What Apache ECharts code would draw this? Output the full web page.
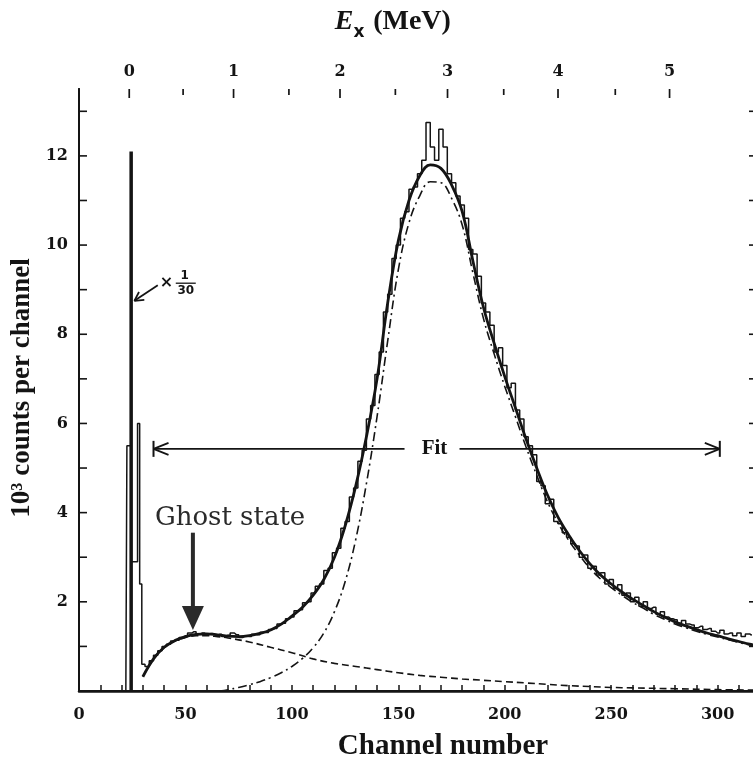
<!DOCTYPE html>
<html>
<head>
<meta charset="utf-8">
<script src="https://cdn.jsdelivr.net/npm/echarts@6/dist/echarts.min.js"></script>
<style>
  html, body { margin: 0; padding: 0; background: #ffffff; }
  #chart { width: 753px; height: 766px; }
</style>
</head>
<body>
<div id="chart"></div>
<script>
// ---- Measured spectrum (counts in units of 10^3 per channel) ----
// Ground-state region, unscaled histogram outline
const gsChannels = [21, 22, 23, 24, 25, 26, 27, 28, 29];
const gsCounts   = [0, 0, 5.5, 5.5, 2.9, 2.9, 2.9, 6.0, 2.4];

// Ground-state peak scaled by 1/30
const gsScaledChannels = [24.5, 24.5];
const gsScaledCounts   = [0, 12.1];

// Main spectrum histogram, 2-channel bins
const dataChannels = [
  30, 32, 34, 36, 38, 40, 42, 44, 46, 48, 50, 52, 54, 56, 58, 60, 62, 64, 66, 68,
  70, 72, 74, 76, 78, 80, 82, 84, 86, 88, 90, 92, 94, 96, 98, 100, 102, 104, 106, 108,
  110, 112, 114, 116, 118, 120, 122, 124, 126, 128, 130, 132, 134, 136, 138, 140, 142, 144, 146, 148,
  150, 152, 154, 156, 158, 160, 162, 164, 166, 168, 170, 172, 174, 176, 178, 180, 182, 184, 186, 188,
  190, 192, 194, 196, 198, 200, 202, 204, 206, 208, 210, 212, 214, 216, 218, 220, 222, 224, 226, 228,
  230, 232, 234, 236, 238, 240, 242, 244, 246, 248, 250, 252, 254, 256, 258, 260, 262, 264, 266, 268,
  270, 272, 274, 276, 278, 280, 282, 284, 286, 288, 290, 292, 294, 296, 298, 300, 302, 304, 306, 308,
  310, 312, 314, 316
];
const dataCounts = [
  0.60, 0.55, 0.68, 0.80, 0.90, 1.00, 1.05, 1.12, 1.14, 1.20, 1.24, 1.30, 1.33, 1.28, 1.30, 1.27, 1.29, 1.25, 1.27, 1.22,
  1.25, 1.30, 1.26, 1.20, 1.24, 1.22, 1.27, 1.26, 1.32, 1.31, 1.38, 1.40, 1.50, 1.52, 1.62, 1.66, 1.80, 1.82, 1.98, 2.00,
  2.20, 2.35, 2.40, 2.70, 2.75, 3.10, 3.20, 3.65, 3.80, 4.35, 4.55, 5.15, 5.40, 6.10, 6.40, 7.10, 7.60, 8.50, 8.90, 9.70,
  10.00, 10.60, 10.75, 11.25, 11.30, 11.60, 11.90, 12.75, 12.20, 11.90, 12.60, 12.20, 11.60, 11.40, 11.10, 10.90, 10.60, 9.90, 9.80, 9.30,
  8.70, 8.50, 8.20, 7.60, 7.70, 7.30, 6.80, 6.90, 6.30, 6.10, 5.70, 5.50, 5.30, 4.70, 4.60, 4.20, 4.30, 3.80, 3.75, 3.55,
  3.45, 3.30, 3.25, 3.00, 3.05, 2.75, 2.80, 2.60, 2.65, 2.40, 2.50, 2.30, 2.38, 2.15, 2.20, 2.00, 2.10, 1.90, 2.00, 1.85,
  1.88, 1.72, 1.78, 1.66, 1.62, 1.60, 1.52, 1.58, 1.50, 1.48, 1.42, 1.45, 1.38, 1.40, 1.34, 1.30, 1.36, 1.28, 1.30, 1.24,
  1.30, 1.22, 1.28, 1.25
];

// ---- Fit (sum of components) ----
const fitChannels = [
  30, 35, 40, 45, 50, 55, 60, 65, 70, 75, 80, 85, 90, 95, 100, 105, 110, 115, 120, 125,
  130, 135, 140, 145, 150, 155, 160, 165, 170, 175, 180, 185, 190, 195, 200, 205, 210, 215, 220, 225,
  230, 235, 240, 245, 250, 255, 260, 265, 270, 275, 280, 285, 290, 295, 300, 305, 310, 315, 318
];
const fitCounts = [
  0.32, 0.72, 0.98, 1.13, 1.22, 1.27, 1.28, 1.26, 1.23, 1.22, 1.24, 1.29, 1.37, 1.50, 1.68, 1.88, 2.15, 2.50, 3.00, 3.70,
  4.60, 5.70, 7.00, 8.70, 10.10, 11.00, 11.55, 11.80, 11.72, 11.35, 10.75, 9.65, 8.60, 7.80, 7.05, 6.35, 5.65, 5.00, 4.40, 3.90,
  3.50, 3.15, 2.85, 2.60, 2.40, 2.22, 2.06, 1.92, 1.78, 1.66, 1.55, 1.46, 1.38, 1.30, 1.24, 1.17, 1.11, 1.05, 1.02
];

// ---- Ghost-state component (dashed) ----
const ghostChannels = [
  30, 35, 40, 45, 50, 55, 60, 65, 70, 80, 90, 100, 110, 120, 130, 140, 150, 160, 170, 180,
  190, 200, 210, 220, 230, 240, 250, 260, 280, 300, 318
];
const ghostCounts = [
  0.32, 0.72, 0.97, 1.12, 1.20, 1.24, 1.24, 1.22, 1.19, 1.10, 0.98, 0.86, 0.72, 0.62, 0.55, 0.48, 0.41, 0.35, 0.31, 0.27,
  0.24, 0.21, 0.18, 0.15, 0.12, 0.10, 0.08, 0.07, 0.05, 0.03, 0.02
];

// ---- Main-peak component (dash-dot) ----
const peakChannels = [
  66, 70, 75, 80, 85, 90, 95, 100, 105, 110, 115, 120, 125, 130, 135, 140, 145, 150, 155, 160,
  165, 170, 175, 180, 185, 190, 195, 200, 205, 210, 215, 220, 225, 230, 235, 240, 245, 250, 255, 260,
  265, 270, 275, 280, 285, 290, 295, 300, 305, 310, 315, 318
];
const peakCounts = [
  0.00, 0.03, 0.08, 0.14, 0.21, 0.30, 0.41, 0.55, 0.73, 0.97, 1.30, 1.78, 2.45, 3.40, 4.65, 6.15, 7.85, 9.45, 10.50, 11.10,
  11.42, 11.40, 11.05, 10.45, 9.38, 8.35, 7.56, 6.83, 6.15, 5.47, 4.84, 4.25, 3.77, 3.38, 3.05, 2.75, 2.51, 2.32, 2.15, 1.99,
  1.86, 1.72, 1.61, 1.50, 1.42, 1.34, 1.27, 1.21, 1.15, 1.09, 1.03, 1.00
];

// ---- Excitation-energy scale (top axis), in channel positions ----
const energyLabels        = ['0', '1', '2', '3', '4', '5'];
const energyMajorChannels = [23.6, 72.6, 122.6, 173.1, 225.0, 277.4];
const energyMinorChannels = [48.9, 98.6, 148.6, 199.5, 251.9];

// Count-axis tick values (units of 10^3)
const countTicks = [1, 2, 3, 4, 5, 6, 7, 8, 9, 10, 11, 12, 13];

const zip = (xs, ys) => xs.map((x, i) => [x, ys[i]]);

const INK = '#141414';

const chart = echarts.init(document.getElementById('chart'), null, { renderer: 'canvas' });

const tickLabel = {
  color: INK, fontFamily: 'DejaVu Serif', fontWeight: 'bold', fontSize: 16
};

chart.setOption({
  backgroundColor: '#ffffff',
  animation: false,
  grid: { left: 79, top: 89, width: 677, height: 602, containLabel: false, outerBoundsMode: 'none' },
  xAxis: [
    {
      type: 'value', position: 'bottom', min: 0, max: 318, interval: 10,
      axisLine: { show: true, lineStyle: { color: INK, width: 2.5 } },
      axisTick: { show: true, inside: true, length: 6, lineStyle: { color: INK, width: 1.5 } },
      axisLabel: Object.assign({}, tickLabel, {
        margin: 16,
        formatter: v => (v % 50 === 0 ? String(v) : '')
      }),
      splitLine: { show: false }
    },
    {
      type: 'value', position: 'top', min: 0, max: 318,
      axisLine: { show: true, lineStyle: { color: INK, width: 2 } },
      axisTick: { show: false },
      axisLabel: Object.assign({}, tickLabel, {
        margin: 9,
        customValues: energyMajorChannels,
        formatter: v => {
          const i = energyMajorChannels.findIndex(c => Math.abs(c - v) < 0.01);
          return i >= 0 ? energyLabels[i] : '';
        }
      }),
      splitLine: { show: false }
    }
  ],
  yAxis: [
    {
      type: 'value', position: 'left', min: 0, max: 13.5, interval: 1,
      axisLine: { show: true, lineStyle: { color: INK, width: 2 } },
      axisTick: { show: false },
      axisLabel: Object.assign({}, tickLabel, {
        margin: 11,
        formatter: v => (v > 0 && v % 2 === 0 ? String(v) : '')
      }),
      splitLine: { show: false }
    },
    {
      type: 'value', position: 'right', min: 0, max: 13.5, interval: 1,
      axisLine: { show: true, lineStyle: { color: INK, width: 2 } },
      axisTick: { show: false },
      axisLabel: { show: false },
      splitLine: { show: false }
    }
  ],
  series: [
    {
      name: 'ghost component', type: 'line', smooth: 0.4, symbol: 'none', z: 3,
      data: zip(ghostChannels, ghostCounts),
      lineStyle: { color: INK, width: 1.6, type: [7, 4] }
    },
    {
      name: 'peak component', type: 'line', smooth: 0.4, symbol: 'none', z: 3,
      data: zip(peakChannels, peakCounts),
      lineStyle: { color: INK, width: 1.6, type: [9, 4, 2, 4] }
    },
    {
      name: 'spectrum', type: 'line', step: 'middle', symbol: 'none', z: 4,
      data: zip(gsChannels, gsCounts).concat(zip(dataChannels, dataCounts)),
      lineStyle: { color: INK, width: 1.5 }
    },
    {
      name: 'fit', type: 'line', smooth: 0.4, symbol: 'none', z: 5,
      data: zip(fitChannels, fitCounts),
      lineStyle: { color: INK, width: 2.8 }
    },
    {
      name: 'ground state x1/30', type: 'line', symbol: 'none', z: 6,
      data: zip(gsScaledChannels, gsScaledCounts),
      lineStyle: { color: INK, width: 3.5 }
    }
  ]
});

// ---- Helpers for items placed in data coordinates ----
const px = (ch, v) => chart.convertToPixel({ xAxisIndex: 0, yAxisIndex: 0 }, [ch, v]);

function seg(x1, y1, x2, y2, w) {
  return { type: 'line', shape: { x1, y1, x2, y2 }, silent: true, z: 20,
           style: { stroke: INK, lineWidth: w || 1.6 } };
}

const g = [];

// Inward ticks: count axes (left and right) and energy axis (top)
{
  const grid = chart.getModel().getComponent('grid', 0).coordinateSystem.getRect();
  const xL = grid.x, xR = grid.x + grid.width, yT = grid.y;
  countTicks.forEach(v => {
    const [, y] = px(0, v);
    g.push(seg(xL, y, xL + 8, y, 1.6));
    g.push(seg(xR - 7, y, xR, y, 1.6));
  });
  energyMajorChannels.forEach(c => {
    const [x] = px(c, 0);
    g.push(seg(x, yT, x, yT + 9, 1.7));
  });
  energyMinorChannels.forEach(c => {
    const [x] = px(c, 0);
    g.push(seg(x, yT, x, yT + 6, 1.7));
  });
}

// Fit range arrow  |<----  Fit  ---->|
const fitRange = [35, 301];
const fitLevel = 5.43;
const fitTextChannel = 167;
{
  const [xl, y] = px(fitRange[0], fitLevel);
  const [xr] = px(fitRange[1], fitLevel);
  const [xt] = px(fitTextChannel, fitLevel);
  g.push(seg(xl, y, xt - 30, y, 1.8));
  g.push(seg(xt + 25, y, xr, y, 1.8));
  g.push(seg(xl, y - 8, xl, y + 8, 2));
  g.push(seg(xr, y - 8, xr, y + 8, 2));
  g.push(seg(xl, y, xl + 15, y - 6, 1.8));
  g.push(seg(xl, y, xl + 15, y + 6, 1.8));
  g.push(seg(xr, y, xr - 15, y - 6, 1.8));
  g.push(seg(xr, y, xr - 15, y + 6, 1.8));
  g.push({ type: 'text', z: 21, silent: true, x: xt, y: y,
           style: { text: 'Fit', fill: INK, font: 'bold 21px "Liberation Serif"',
                    align: 'center', verticalAlign: 'middle' } });
}

// Ghost state label with arrow
const ghostArrowChannel = 53.5;
const ghostArrowTop = 3.55;
const ghostArrowTip = 1.37;
{
  const [xa, ytop] = px(ghostArrowChannel, ghostArrowTop);
  const [, ytip] = px(ghostArrowChannel, ghostArrowTip);
  g.push({ type: 'rect', z: 20, silent: true,
           shape: { x: xa - 2, y: ytop, width: 4, height: ytip - ytop - 22 },
           style: { fill: '#2a2a2a' } });
  g.push({ type: 'polygon', z: 20, silent: true,
           shape: { points: [[xa - 11, ytip - 24], [xa + 11, ytip - 24], [xa, ytip]] },
           style: { fill: '#2a2a2a' } });
  g.push({ type: 'text', z: 21, silent: true, x: xa - 38, y: ytop - 14,
           style: { text: 'Ghost state', fill: '#2a2a2a', font: '26px "DejaVu Serif"',
                    align: 'left', verticalAlign: 'middle' } });
}

// x 1/30 label with arrow to the scaled ground-state peak
const gsArrowTail = [37, 9.1];
const gsArrowTip = [26, 8.75];
{
  const [x1, y1] = px(gsArrowTail[0], gsArrowTail[1]);
  const [x2, y2] = px(gsArrowTip[0], gsArrowTip[1]);
  g.push(seg(x1, y1, x2, y2, 1.8));
  const a = Math.atan2(y1 - y2, x1 - x2);
  const L = 10, s = 0.5;
  g.push(seg(x2, y2, x2 + L * Math.cos(a + s), y2 + L * Math.sin(a + s), 1.8));
  g.push(seg(x2, y2, x2 + L * Math.cos(a - s), y2 + L * Math.sin(a - s), 1.8));
  g.push({ type: 'text', z: 21, silent: true, x: x1 + 2, y: y1 - 2,
           style: { text: '×', fill: INK, font: 'bold 16px "DejaVu Sans"', verticalAlign: 'middle' } });
  g.push({ type: 'text', z: 21, silent: true, x: x1 + 27, y: y1 - 9,
           style: { text: '1', fill: INK, font: 'bold 12px "DejaVu Sans"', align: 'center', verticalAlign: 'middle' } });
  g.push(seg(x1 + 18, y1 - 2, x1 + 38, y1 - 2, 1.3));
  g.push({ type: 'text', z: 21, silent: true, x: x1 + 28, y: y1 + 6,
           style: { text: '30', fill: INK, font: 'bold 12px "DejaVu Sans"', align: 'center', verticalAlign: 'middle' } });
}

// Axis titles
g.push({ type: 'text', silent: true, x: 443, y: 747,
         style: { text: 'Channel number', fill: INK, font: 'bold 29px "Liberation Serif"',
                  align: 'center', verticalAlign: 'middle' } });
g.push({ type: 'text', silent: true, x: 22, y: 388, rotation: Math.PI / 2,
         style: { text: '10³ counts per channel', fill: INK, font: 'bold 27px "Liberation Serif"',
                  align: 'center', verticalAlign: 'middle' } });
g.push({ type: 'text', silent: true, x: 344, y: 22,
         style: { text: 'E', fill: INK, font: 'italic bold 28px "Liberation Serif"',
                  align: 'center', verticalAlign: 'middle' } });
g.push({ type: 'text', silent: true, x: 359, y: 33,
         style: { text: 'x', fill: INK, font: 'bold 17px "DejaVu Sans"',
                  align: 'center', verticalAlign: 'middle' } });
g.push({ type: 'text', silent: true, x: 412, y: 22,
         style: { text: '(MeV)', fill: INK, font: 'bold 28px "Liberation Serif"',
                  align: 'center', verticalAlign: 'middle' } });

chart.setOption({ graphic: g });
</script>
</body>
</html>
